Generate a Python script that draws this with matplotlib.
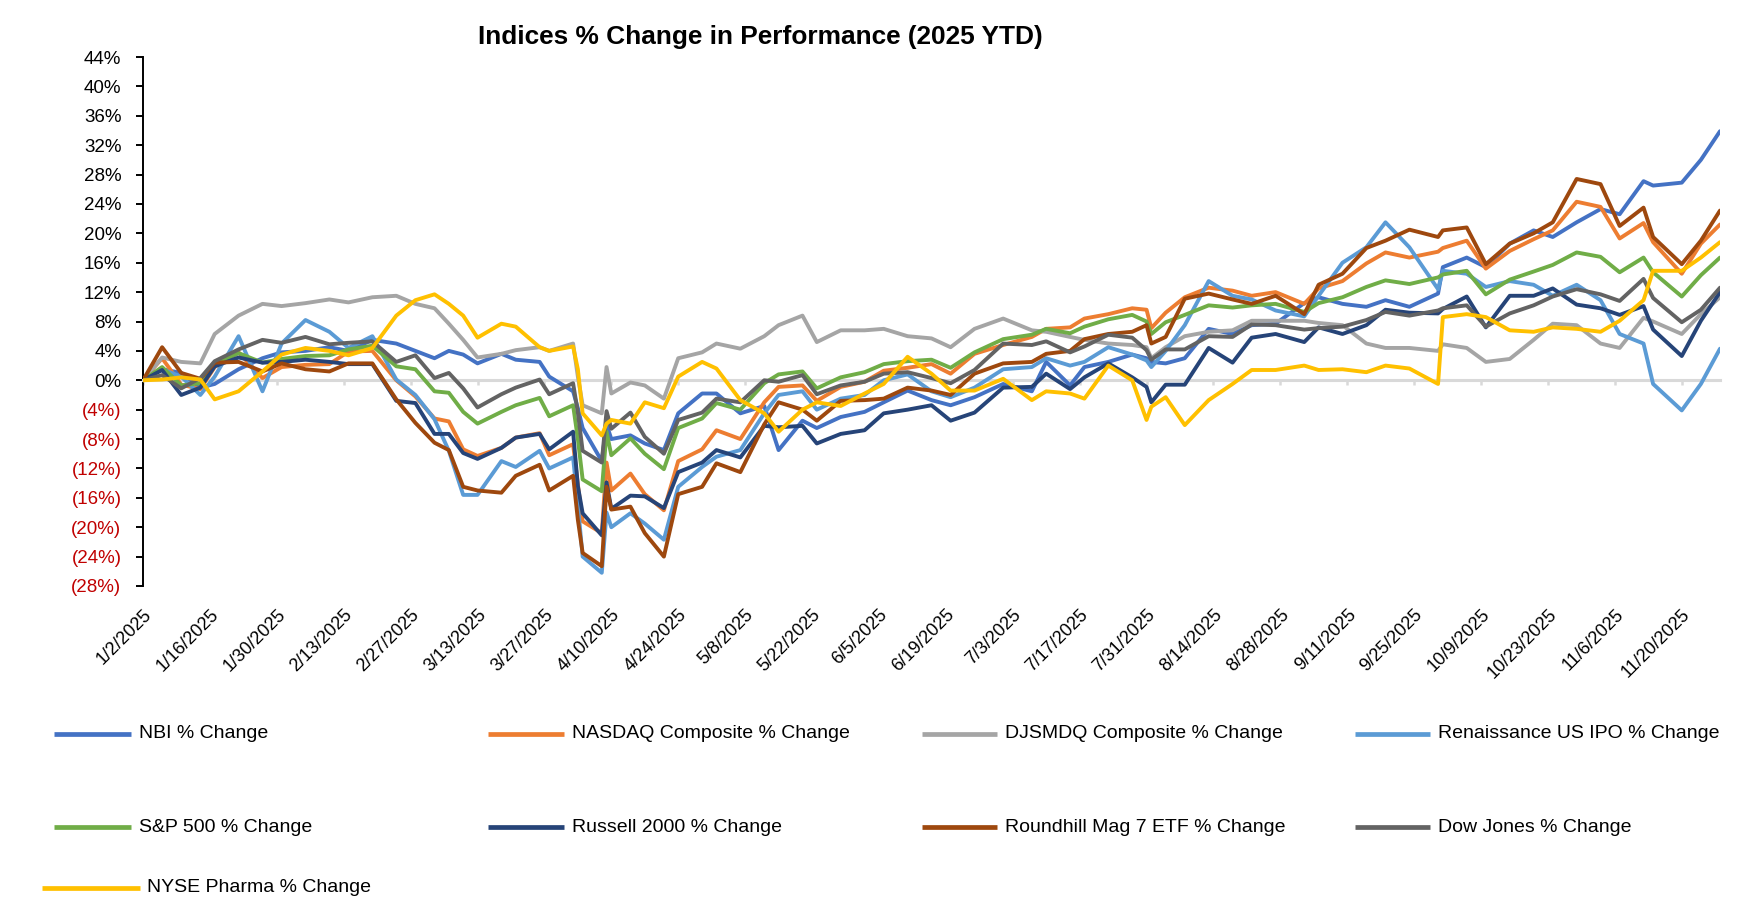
import matplotlib
matplotlib.use("Agg")
import matplotlib.pyplot as plt
from matplotlib.lines import Line2D
import pandas as pd

plt.rcParams['font.family'] = ['Liberation Sans', 'DejaVu Sans']

# ---------------- data ----------------
dates = [
    "2025-01-02", "2025-01-06", "2025-01-10", "2025-01-14", "2025-01-17", "2025-01-22", "2025-01-27", "2025-01-31",
    "2025-02-05", "2025-02-10", "2025-02-14", "2025-02-19", "2025-02-24", "2025-02-28",
    "2025-03-04", "2025-03-07", "2025-03-10", "2025-03-13", "2025-03-18", "2025-03-21", "2025-03-26", "2025-03-28",
    "2025-04-02", "2025-04-03", "2025-04-04", "2025-04-08", "2025-04-09", "2025-04-10", "2025-04-14", "2025-04-17",
    "2025-04-21", "2025-04-24", "2025-04-29",
    "2025-05-02", "2025-05-07", "2025-05-12", "2025-05-15", "2025-05-20", "2025-05-23", "2025-05-28",
    "2025-06-02", "2025-06-06", "2025-06-11", "2025-06-16", "2025-06-20", "2025-06-25",
    "2025-07-01", "2025-07-07", "2025-07-10", "2025-07-15", "2025-07-18", "2025-07-23", "2025-07-28", "2025-07-31",
    "2025-08-01", "2025-08-04", "2025-08-08", "2025-08-13", "2025-08-18", "2025-08-22", "2025-08-27",
    "2025-09-02", "2025-09-05", "2025-09-10", "2025-09-15", "2025-09-19", "2025-09-24", "2025-09-30",
    "2025-10-01", "2025-10-06", "2025-10-10", "2025-10-15", "2025-10-20", "2025-10-24", "2025-10-29",
    "2025-11-03", "2025-11-07", "2025-11-12", "2025-11-14", "2025-11-20", "2025-11-24", "2025-11-28",
]

nbi = [0, 1.5, 1.0, -1.0, -0.5, 1.5, 3.0, 3.8,
       4.0, 4.5, 4.0, 5.5, 5.0, 4.0,
       3.0, 4.0, 3.5, 2.3, 3.6, 2.8, 2.5, 0.5,
       -1.5, -3.8, -6.5, -11.0, -6.0, -8.0, -7.5, -8.6, -9.5, -4.5, -1.8,
       -1.8, -4.5, -3.5, -9.5, -5.5, -6.5, -5.0,
       -4.3, -3.0, -1.4, -2.7, -3.4, -2.3,
       -0.5, -1.5, 2.5, -0.7, 1.8, 2.5, 3.5, 3.0,
       2.5, 2.3, 3.0, 7.0, 6.3, 7.5, 7.7,
       10.5, 11.3, 10.4, 10.0, 10.9, 10.0, 11.8,
       15.4, 16.7, 15.4, 18.6, 20.4, 19.5, 21.5,
       23.3, 22.6, 27.1, 26.5, 26.9, 30.0, 33.9]

nasdaq = [0, 3.0, -0.6, -1.2, 1.8, 3.8, 0.3, 1.8,
          2.1, 2.2, 3.9, 4.0, 0.0, -2.2,
          -5.2, -5.6, -9.4, -10.3, -9.2, -7.8, -7.2, -10.2,
          -8.7, -14.2, -19.2, -20.8, -11.2, -15.0, -12.7, -15.5, -17.7, -11.0, -9.4,
          -6.8, -8.0, -3.0, -0.9, -0.7, -2.8, -0.9,
          -0.2, 1.3, 1.7, 2.2, 0.9, 3.6,
          4.8, 5.9, 7.0, 7.2, 8.4, 9.0, 9.8, 9.6,
          7.1, 9.2, 11.3, 12.6, 12.2, 11.5, 12.0,
          10.4, 12.5, 13.5, 15.9, 17.4, 16.7, 17.5,
          18.0, 19.0, 15.2, 17.6, 19.2, 20.4, 24.3,
          23.6, 19.3, 21.4, 18.8, 14.5, 18.6, 21.2]

djsmdq = [0, 3.1, 2.5, 2.3, 6.3, 8.8, 10.4, 10.1,
          10.5, 11.0, 10.6, 11.3, 11.5, 10.4,
          9.8, 7.7, 5.5, 3.1, 3.6, 4.1, 4.5, 4.0,
          5.0, 0.5, -3.4, -4.5, 1.8, -1.8, -0.3, -0.7, -2.5, 3.0, 3.8,
          5.0, 4.3, 6.0, 7.5, 8.8, 5.2, 6.8,
          6.8, 7.0, 6.0, 5.7, 4.5, 7.0,
          8.4, 6.8, 6.6, 5.9, 5.5, 5.0, 4.8, 4.5,
          3.0, 4.5, 6.0, 6.6, 6.8, 8.1, 8.1,
          8.1, 7.8, 7.5, 5.0, 4.4, 4.4, 4.0,
          4.9, 4.4, 2.5, 2.9, 5.5, 7.7, 7.5,
          5.0, 4.4, 8.5, 8.0, 6.3, 9.0, 11.3]

ipo = [0, 1.5, 0.5, -2.0, 0.5, 6.0, -1.5, 5.0,
       8.2, 6.6, 4.4, 6.0, 0.1, -2.0,
       -5.3, -9.6, -15.6, -15.6, -11.0, -11.8, -9.6, -12.0,
       -10.5, -17.0, -24.0, -26.2, -18.0, -20.0, -18.1, -19.5, -21.7, -14.5, -11.8,
       -10.4, -9.5, -4.5, -2.0, -1.5, -4.0, -2.5,
       -2.0, 0.0, 0.8, -1.5, -2.3, -1.0,
       1.5, 1.8, 3.0, 2.0, 2.5, 4.5, 3.5, 2.7,
       1.8, 4.0, 7.5, 13.5, 11.5, 11.0, 9.5,
       8.7, 11.5, 16.0, 18.1, 21.5, 18.1, 12.4,
       14.9, 14.5, 12.7, 13.5, 13.0, 11.5, 13.0,
       10.9, 6.3, 5.0, -0.5, -4.1, -0.5, 4.3]

sp500 = [0, 1.8, -0.7, -0.4, 2.2, 3.7, 2.4, 2.9,
         3.3, 3.4, 4.2, 4.7, 1.9, 1.5,
         -1.5, -1.7, -4.3, -5.9, -4.3, -3.4, -2.4, -4.9,
         -3.4, -8.0, -13.5, -15.1, -7.0, -10.2, -7.9, -10.0, -12.1, -6.5, -5.2,
         -3.1, -4.0, -0.4, 0.8, 1.2, -1.1, 0.4,
         1.1, 2.2, 2.6, 2.8, 1.7, 3.8,
         5.6, 6.2, 7.0, 6.4, 7.3, 8.3, 8.9, 8.0,
         6.3, 7.9, 8.9, 10.2, 9.9, 10.2, 10.4,
         9.3, 10.5, 11.3, 12.7, 13.6, 13.1, 14.0,
         14.4, 14.9, 11.7, 13.7, 14.8, 15.7, 17.4,
         16.8, 14.7, 16.7, 14.7, 11.4, 14.3, 16.7]

russell = [0, 1.4, -2.0, -1.0, 1.9, 3.1, 2.4, 2.5,
           2.8, 2.5, 2.2, 2.2, -2.8, -3.1,
           -7.3, -7.3, -9.9, -10.7, -9.2, -7.8, -7.3, -9.4,
           -7.0, -14.4, -18.1, -21.1, -13.9, -17.5, -15.7, -15.8, -17.4, -12.5, -11.2,
           -9.5, -10.5, -6.2, -6.4, -6.2, -8.6, -7.3,
           -6.8, -4.5, -4.0, -3.4, -5.5, -4.4,
           -1.0, -0.9, 0.9, -1.2, 0.4, 2.3, 0.4, -0.9,
           -3.0, -0.6, -0.6, 4.4, 2.4, 5.8, 6.3,
           5.2, 7.2, 6.3, 7.5, 9.6, 9.2, 9.1,
           9.7, 11.4, 7.2, 11.5, 11.5, 12.5, 10.3,
           9.8, 8.9, 10.1, 6.9, 3.3, 8.1, 12.0]

mag7 = [0, 4.5, 1.0, 0.2, 2.4, 2.5, 1.2, 2.3,
        1.5, 1.2, 2.3, 2.3, -2.6, -5.8,
        -8.5, -9.5, -14.5, -15.0, -15.3, -13.0, -11.5, -15.0,
        -13.0, -19.0, -23.5, -25.3, -14.5, -17.6, -17.2, -20.8, -24.0, -15.5, -14.5,
        -11.3, -12.5, -6.0, -3.0, -4.0, -5.5, -2.8,
        -2.7, -2.5, -1.0, -1.4, -2.0, 0.9,
        2.3, 2.5, 3.6, 4.0, 5.6, 6.3, 6.6, 7.5,
        5.0, 5.9, 11.1, 11.8, 11.0, 10.4, 11.5,
        9.0, 13.0, 14.5, 18.0, 19.0, 20.5, 19.5,
        20.4, 20.8, 15.8, 18.6, 20.0, 21.5, 27.4,
        26.7, 21.0, 23.5, 19.5, 15.8, 19.0, 23.1]

dow = [0, 0.7, -1.1, 0.3, 2.6, 4.2, 5.5, 5.1,
       5.9, 4.9, 5.1, 5.3, 2.5, 3.4,
       0.3, 1.0, -1.1, -3.7, -1.9, -1.0, 0.1, -1.9,
       -0.4, -4.4, -9.6, -11.2, -4.2, -6.6, -4.4, -7.7, -10.0, -5.4, -4.4,
       -2.5, -3.0, 0.0, -0.2, 0.7, -1.9, -0.7,
       -0.2, 0.9, 1.1, 0.3, -0.4, 1.4,
       5.0, 4.8, 5.3, 3.8, 4.6, 6.2, 5.8, 4.1,
       2.8, 4.2, 4.2, 6.0, 5.9, 7.6, 7.5,
       6.9, 7.1, 7.3, 8.2, 9.3, 8.8, 9.5,
       9.8, 10.2, 7.3, 9.1, 10.2, 11.4, 12.4,
       11.7, 10.8, 13.8, 11.2, 7.9, 9.6, 12.6]

pharma = [0, 0.1, 0.4, 0.1, -2.6, -1.5, 1.2, 3.5,
          4.4, 4.0, 3.4, 4.4, 8.8, 10.9,
          11.7, 10.4, 8.8, 5.8, 7.7, 7.3, 4.5, 4.0,
          4.6, 1.5, -4.5, -7.5, -5.9, -5.4, -5.9, -3.0, -3.8, 0.5, 2.5,
          1.6, -2.7, -4.5, -7.0, -4.0, -3.0, -3.5,
          -1.8, -0.5, 3.2, 0.9, -1.4, -1.4,
          0.2, -2.7, -1.5, -1.8, -2.5, 2.0, 0.0, -5.4,
          -3.6, -2.3, -6.1, -2.7, -0.5, 1.4, 1.4,
          2.0, 1.4, 1.5, 1.1, 2.0, 1.6, -0.5,
          8.6, 9.0, 8.6, 6.8, 6.6, 7.2, 7.0,
          6.6, 8.1, 10.9, 14.9, 14.9, 16.7, 18.8]

series_names = ["NBI % Change", "NASDAQ Composite % Change", "DJSMDQ Composite % Change",
                "Renaissance US IPO % Change", "S&P 500 % Change", "Russell 2000 % Change",
                "Roundhill Mag 7 ETF % Change", "Dow Jones % Change", "NYSE Pharma % Change"]
series_values = [nbi, nasdaq, djsmdq, ipo, sp500, russell, mag7, dow, pharma]
series_colors = ["#4472C4", "#ED7D31", "#A5A5A5", "#5B9BD5", "#70AD47",
                 "#264478", "#9E480E", "#636363", "#FFC000"]

title = "Indices % Change in Performance (2025 YTD)"
y_ticks = list(range(-28, 45, 4))
x_tick_dates = pd.date_range("2025-01-02", "2025-11-20", freq="14D")

# ---------------- figure ----------------
W, H = 1764, 918
fig = plt.figure(figsize=(W / 100, H / 100), dpi=100)
ax_l, ax_r, ax_t, ax_b = 143, 1720, 57, 586
ax = fig.add_axes([ax_l / W, 1 - ax_b / H, (ax_r - ax_l) / W, (ax_b - ax_t) / H])

x = pd.to_datetime(dates)
for vals, col in zip(series_values, series_colors):
    ax.plot(x, vals, color=col, lw=2.8, solid_joinstyle="round",
            solid_capstyle="round", zorder=3)

ax.set_xlim(x[0], x[-1])
ax.set_ylim(-28, 44)

# y axis
ax.set_yticks(y_ticks)
ax.set_yticklabels([f"({abs(v)}%)" if v < 0 else f"{v}%" for v in y_ticks])
for lab, v in zip(ax.get_yticklabels(), y_ticks):
    lab.set_color("#C00000" if v < 0 else "black")
ax.tick_params(axis="y", direction="out", length=5, width=1.4, color="black",
               labelsize=13.5, pad=10.5)
ax.spines["left"].set_linewidth(1.4)
ax.spines["left"].set_color("black")
ax.spines["top"].set_visible(False)
ax.spines["right"].set_visible(False)

# horizontal axis line at zero (light gray) with small tick marks
ax.spines["bottom"].set_position(("data", 0))
ax.spines["bottom"].set_color("#D9D9D9")
ax.spines["bottom"].set_linewidth(2.2)
ax.set_xticks(x_tick_dates)
ax.tick_params(axis="x", direction="out", length=3.5, width=1.8, color="#D9D9D9",
               labelbottom=False)

# date labels at the bottom of the plot
sec = ax.secondary_xaxis("bottom")
sec.set_xticks(x_tick_dates)
sec.set_xticklabels([f"{d.month}/{d.day}/{d.year}" for d in x_tick_dates])
sec.tick_params(length=0, pad=14.5, labelsize=13)
sec.spines["bottom"].set_visible(False)
for lab in sec.get_xticklabels():
    lab.set_rotation(45)
    lab.set_ha("right")
    lab.set_rotation_mode("anchor")

# title
fig.text(760 / W, 1 - 37 / H, title, ha="center", va="center",
         fontsize=18.9, fontweight="bold")

# legend (manual layout)
rows_y = [734, 734, 734, 734, 827, 827, 827, 827, 888]
line_x0 = [54, 488, 922, 1355, 54, 488, 922, 1355, 42]
line_x1 = [131, 564, 997, 1430, 131, 564, 997, 1430, 140]
text_x = [139, 572, 1005, 1438, 139, 572, 1005, 1438, 147]
for name, col, yy, a, b, t in zip(series_names, series_colors, rows_y, line_x0, line_x1, text_x):
    fig.add_artist(Line2D([a / W, b / W], [1 - yy / H, 1 - yy / H], color=col, lw=3.4,
                          transform=fig.transFigure, solid_capstyle="butt"))
    fig.text(t / W, 1 - yy / H, name, ha="left", va="center", fontsize=14)

fig.savefig("out.png", dpi=100)
